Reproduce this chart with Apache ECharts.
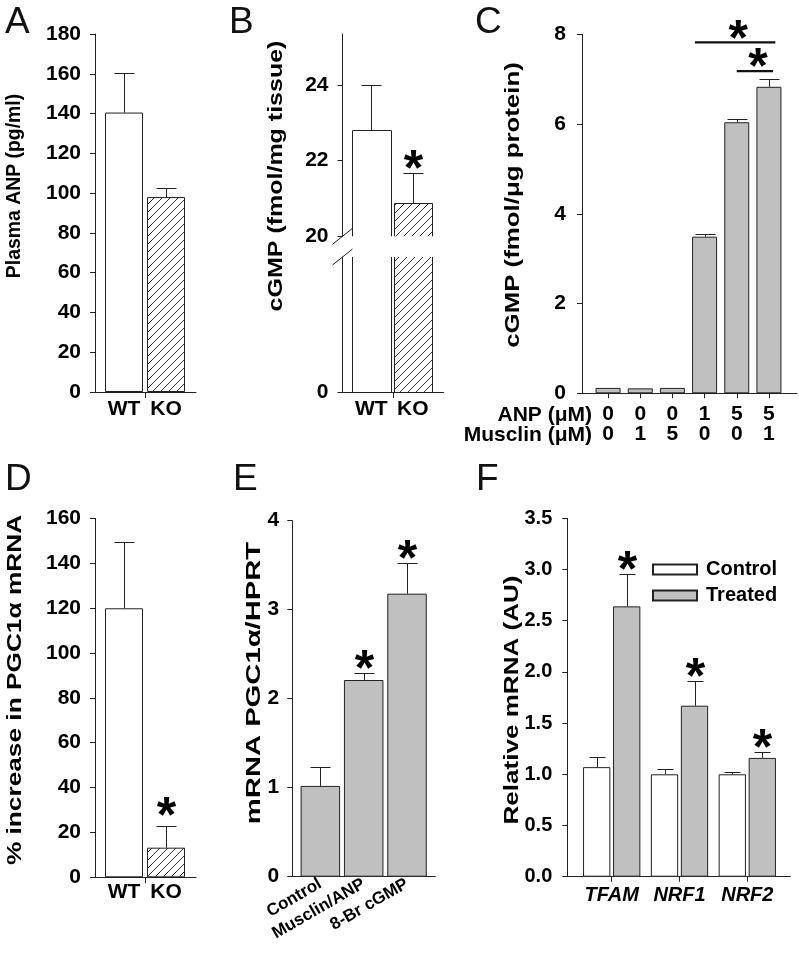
<!DOCTYPE html>
<html><head><meta charset="utf-8">
<script src="https://cdn.jsdelivr.net/npm/echarts@6/dist/echarts.min.js"></script>
<style>html,body{margin:0;padding:0;background:#fff}#c{width:799px;height:962px}</style>
</head><body><div id="c"></div>
<script>
// ---------------- data ----------------
const groupCats = ['WT', 'KO'];
const A_values = [140.5, 98];
const A_errors = [20, 4.5];
const A_sig = [0, 0];
const B_values = [22.8, 20.87];
const B_errors = [1.2, 0.81];
const B_sig = [0, 1];
const B_upperTicks = [20, 22, 24];
const B_lowerTicks = [0];
const C_anp = ['0', '0', '0', '1', '5', '5'];
const C_musclin = ['0', '1', '5', '0', '0', '1'];
const C_values = [0.12, 0.11, 0.12, 3.49, 6.04, 6.83];
const C_errors = [0, 0, 0, 0.06, 0.07, 0.18];
const C_brackets = [[3, 5], [4, 5]];
const C_bracketLevels = [7.82, 7.18];
const D_values = [119.9, 13.2];
const D_errors = [29.7, 9.8];
const D_sig = [0, 1];
const E_cats = ['Control', 'Musclin/ANP', '8-Br cGMP'];
const E_values = [1.02, 2.21, 3.18];
const E_errors = [0.21, 0.08, 0.35];
const E_sig = [0, 1, 1];
const F_cats = ['TFAM', 'NRF1', 'NRF2'];
const F_control = [1.07, 1.0, 1.0];
const F_controlErr = [0.1, 0.05, 0.02];
const F_treated = [2.64, 1.67, 1.16];
const F_treatedErr = [0.32, 0.24, 0.06];
const F_treatedSig = [1, 1, 1];

// ---------------- style ----------------
const FONT = '"Liberation Sans", Arial, Helvetica, sans-serif';
const INK = '#222';
const GREY = '#c0c0c0';
const WHITE = '#ffffff';
const STAR_SIZE = 50;

function makeHatch() {
  const s = 8, c = document.createElement('canvas');
  c.width = s; c.height = s;
  const g = c.getContext('2d');
  g.fillStyle = '#fff'; g.fillRect(0, 0, s, s);
  g.strokeStyle = '#333'; g.lineWidth = 1;
  g.beginPath();
  g.moveTo(0, s); g.lineTo(s, 0);
  g.moveTo(-2, 2); g.lineTo(2, -2);
  g.moveTo(s - 2, s + 2); g.lineTo(s + 2, s - 2);
  g.stroke();
  return c;
}
const HATCH = {image: makeHatch(), repeat: 'repeat'};

const opt = {animation: false, backgroundColor: '#fff', grid: [], xAxis: [], yAxis: [], series: []};
function grid(l, t, w, h) { opt.grid.push({left: l, top: t, width: w, height: h, containLabel: false}); return opt.grid.length - 1; }
function xAx(o) { opt.xAxis.push(o); return opt.xAxis.length - 1; }
function yAx(o) { opt.yAxis.push(o); return opt.yAxis.length - 1; }

function catAxis(gi, cats, o) {
  return {
    type: 'category', gridIndex: gi, data: cats, boundaryGap: true,
    axisLine: {show: false, onZero: false},
    axisTick: {show: !!o.tick, alignWithLabel: true, length: 5, lineStyle: {color: INK}},
    axisLabel: o.label === false ? {show: false} : Object.assign({
      show: true, margin: o.margin, color: '#000', fontFamily: FONT, fontWeight: 'bold',
      fontSize: o.size || 21, interval: 0
    }, o.labelExtra || {}),
    splitLine: {show: false}
  };
}
function valAxis(gi, o) {
  const ax = {
    type: 'value', gridIndex: gi, min: o.min, max: o.max, offset: o.offset,
    axisLine: {show: true, onZero: false, lineStyle: {color: INK}},
    axisTick: {show: true, length: 5, lineStyle: {color: INK}},
    axisLabel: {margin: o.margin || 14, color: '#000', fontFamily: FONT, fontWeight: 'bold', fontSize: o.size || 21},
    splitLine: {show: false}
  };
  if (o.interval) ax.interval = o.interval;
  if (o.ticks) { ax.axisTick.customValues = o.ticks; ax.axisLabel.customValues = o.ticks; }
  if (o.fmt) ax.axisLabel.formatter = o.fmt;
  return ax;
}
function frame(l, t, w, h, midTick) {
  const g = grid(l, t, w, h);
  if (midTick) {
    xAx({type: 'category', gridIndex: g, data: ['', '', ''], boundaryGap: false,
      axisLine: {onZero: false, lineStyle: {color: INK}},
      axisTick: {length: 6, interval: (i) => i === 1, lineStyle: {color: INK}},
      axisLabel: {show: false}, splitLine: {show: false}});
  } else {
    xAx({type: 'value', gridIndex: g, min: 0, max: 1,
      axisLine: {onZero: false, lineStyle: {color: INK}},
      axisTick: {show: false}, axisLabel: {show: false}, splitLine: {show: false}});
  }
  yAx({type: 'value', gridIndex: g, show: false, min: 0, max: 1});
}
function barSeries(xi, yi, vals, fills, width, extra) {
  return Object.assign({
    type: 'bar', xAxisIndex: xi, yAxisIndex: yi, barWidth: width, clip: true,
    data: vals.map((v, i) => ({value: v, itemStyle: {color: fills[i % fills.length]}})),
    itemStyle: {borderColor: INK, borderWidth: 1}, z: 3
  }, extra || {});
}
// bars on a broken axis: edges cut by the grid boundary stay open
function brokenBarSeries(xi, yi, vals, fills, width) {
  return {
    type: 'custom', xAxisIndex: xi, yAxisIndex: yi, z: 3, silent: true, clip: false,
    data: vals.map((v, i) => [i, v]),
    renderItem(params, api) {
      const i = api.value(0), v = api.value(1), cs = params.coordSys;
      const c = api.coord([i, v]);
      const inside = c[1] > cs.y;
      const top = inside ? Math.round(c[1]) + 0.5 : cs.y;
      const bot = cs.y + cs.height;
      const x0 = Math.round(c[0] - width / 2) + 0.5, x1 = Math.round(c[0] + width / 2) + 0.5;
      const ch = [{type: 'rect', shape: {x: x0, y: top, width: x1 - x0, height: bot - top}, style: {fill: fills[i % fills.length]}}];
      if (inside) {
        ch.push({type: 'polyline', shape: {points: [[x0, bot], [x0, top], [x1, top], [x1, bot]]}, style: {stroke: INK, lineWidth: 1, fill: null}});
      } else {
        ch.push({type: 'line', shape: {x1: x0, y1: top, x2: x0, y2: bot}, style: {stroke: INK, lineWidth: 1}});
        ch.push({type: 'line', shape: {x1: x1, y1: top, x2: x1, y2: bot}, style: {stroke: INK, lineWidth: 1}});
      }
      return {type: 'group', children: ch};
    }
  };
}
function errSeries(xi, yi, vals, errs, sig, o) {
  return {
    type: 'custom', xAxisIndex: xi, yAxisIndex: yi, z: 4, silent: true, clip: false,
    data: vals.map((v, i) => [i, v, errs[i], sig ? sig[i] : 0]),
    renderItem(params, api) {
      const v = api.value(1), e = api.value(2), s = api.value(3), i = api.value(0);
      const p0 = api.coord([i, v]), p1 = api.coord([i, v + e]);
      const x = Math.round(p0[0] + (o.shift || 0)) + 0.5;
      const yTop = Math.round(p1[1]) + 0.5;
      const ch = [];
      if (e > 0) {
        ch.push({type: 'line', shape: {x1: x, y1: p0[1], x2: x, y2: yTop}, style: {stroke: INK, lineWidth: 1}});
        ch.push({type: 'line', shape: {x1: x - o.cap / 2, y1: yTop, x2: x + o.cap / 2, y2: yTop}, style: {stroke: INK, lineWidth: 1}});
      }
      if (s) {
        ch.push({type: 'text', x: x, y: yTop - (o.starGap || 14) + 0.23 * STAR_SIZE,
          style: {text: '*', fontFamily: FONT, fontWeight: 'bold', fontSize: STAR_SIZE, fill: '#000', align: 'center', verticalAlign: 'middle'}});
      }
      return {type: 'group', children: ch};
    }
  };
}

// ---------------- Panel A ----------------
const gA = grid(103, 34, 84, 358);
const xA = xAx(catAxis(gA, groupCats, {margin: 7}));
const yA = yAx(valAxis(gA, {min: 0, max: 180, interval: 20, offset: 8}));
frame(95, 34, 101, 358, true);
opt.series.push(barSeries(xA, yA, A_values, [WHITE, HATCH], 38));
opt.series.push(errSeries(xA, yA, A_values, A_errors, A_sig, {cap: 20}));

// ---------------- Panel B (broken axis) ----------------
const gBu = grid(350.5, 34, 83, 202.3);
const xBu = xAx(catAxis(gBu, groupCats, {label: false}));
const yBu = yAx(valAxis(gBu, {min: 20, max: 25.35, offset: 8, ticks: B_upperTicks}));
const gBl = grid(350.5, 257, 83, 135);
const xBl = xAx(catAxis(gBl, groupCats, {margin: 7}));
const yBl = yAx(valAxis(gBl, {min: 0, max: 20, offset: 8, ticks: B_lowerTicks}));
frame(342.5, 257, 101, 135, true);
opt.series.push(brokenBarSeries(xBu, yBu, B_values, [WHITE, HATCH], 38.5));
opt.series.push(brokenBarSeries(xBl, yBl, B_values, [WHITE, HATCH], 38.5));
opt.series.push(errSeries(xBu, yBu, B_values, B_errors, B_sig, {cap: 20}));

// ---------------- Panel C ----------------
const gC = grid(592, 34.3, 193, 359);
const xC = xAx(catAxis(gC, C_anp.map((a, i) => a + '|' + C_musclin[i]), {
  tick: true, margin: 11, size: 21,
  labelExtra: {lineHeight: 20, formatter: (v) => v.split('|').join('\n')}
}));
const yC = yAx(valAxis(gC, {min: 0, max: 8, interval: 2, offset: 10, margin: 16}));
frame(582, 34.3, 215, 359, false);
opt.series.push(barSeries(xC, yC, C_values, [GREY], 25));
opt.series.push(errSeries(xC, yC, C_values, C_errors, null, {cap: 20}));

// ---------------- Panel D ----------------
const gD = grid(103, 518.3, 84, 359);
const xD = xAx(catAxis(gD, groupCats, {margin: 4}));
const yD = yAx(valAxis(gD, {min: 0, max: 160, interval: 20, offset: 8}));
frame(95, 518.3, 101, 359, true);
opt.series.push(barSeries(xD, yD, D_values, [WHITE, HATCH], 38));
opt.series.push(errSeries(xD, yD, D_values, D_errors, D_sig, {cap: 20, starGap: 20}));

// ---------------- Panel E ----------------
const gE = grid(298.7, 520.7, 130, 356);
const xE = xAx(catAxis(gE, E_cats, {margin: 6, size: 17, labelExtra: {rotate: 30}}));
const yE = yAx(valAxis(gE, {min: 0, max: 4, interval: 1, offset: 6.4, margin: 13}));
frame(292.3, 520.7, 143, 356, false);
opt.series.push(barSeries(xE, yE, E_values, [GREY], 39.5));
opt.series.push(errSeries(xE, yE, E_values, E_errors, E_sig, {cap: 20}));

// ---------------- Panel F ----------------
const F_bw = 27.3, F_gap = 2.7, F_shift = (F_bw + F_gap) / 2;
const gF = grid(577.8, 518.3, 203.4, 358.4);
const xF = xAx(catAxis(gF, F_cats, {tick: true, margin: 9, size: 20, labelExtra: {fontStyle: 'italic'}}));
const yF = yAx(valAxis(gF, {min: 0, max: 3.5, interval: 0.5, offset: 10.5, size: 20, margin: 15, fmt: (v) => v.toFixed(1)}));
frame(567.3, 518.3, 223, 358.4, false);
const gapPct = (F_gap / F_bw * 100).toFixed(1) + '%';
opt.series.push(barSeries(xF, yF, F_control, [WHITE], F_bw, {name: 'Control', barGap: gapPct, itemStyle: {color: WHITE, borderColor: INK, borderWidth: 1}}));
opt.series.push(barSeries(xF, yF, F_treated, [GREY], F_bw, {name: 'Treated', barGap: gapPct, itemStyle: {color: GREY, borderColor: INK, borderWidth: 1}}));
opt.series.push(errSeries(xF, yF, F_control, F_controlErr, null, {cap: 16, shift: -F_shift}));
opt.series.push(errSeries(xF, yF, F_treated, F_treatedErr, F_treatedSig, {cap: 16, shift: F_shift}));

opt.legend = {
  left: 652, top: 559.5, padding: 0, orient: 'vertical', itemWidth: 44, itemHeight: 10, itemGap: 6,
  selectedMode: false, icon: 'rect', data: ['Control', 'Treated'],
  textStyle: {fontFamily: FONT, fontWeight: 'bold', fontSize: 20, color: '#000', lineHeight: 19, padding: [0, 0, 0, 4]}
};

const chart = echarts.init(document.getElementById('c'), null, {renderer: 'canvas', width: 799, height: 962});
chart.setOption(opt);

// ---------------- annotations (text, brackets, axis break) ----------------
const gfx = [];
const letters = [['A', 5, 23], ['B', 229, 23], ['C', 475, 23], ['D', 5, 480], ['E', 233, 480], ['F', 476, 480]];
letters.forEach(([t, x, y]) => gfx.push({type: 'text', x, y, style: {text: t, fontFamily: FONT, fontSize: 37, fill: '#111', align: 'left', verticalAlign: 'middle'}}));
// [text, centre x, centre y, font size, stretch along the text]
const titles = [
  ['Plasma ANP (pg/ml)', 14, 186, 20, 0.97],
  ['cGMP (fmol/mg tissue)', 276, 176, 21, 1.19],
  ['cGMP (fmol/\u03bcg protein)', 513, 205, 21, 1.23],
  ['% increase in PGC1\u03b1 mRNA', 15, 690, 21, 1.25],
  ['mRNA PGC1\u03b1/HPRT', 254, 683, 21, 1.39],
  ['Relative mRNA (AU)', 512, 700, 21, 1.24]
];
titles.forEach(([t, x, y, fs, k]) => gfx.push({type: 'text', x, y, rotation: Math.PI / 2, scaleX: k, scaleY: 1,
  style: {text: t, fontFamily: FONT, fontWeight: 'bold', fontSize: fs, fill: '#000', align: 'center', verticalAlign: 'middle'}}));
[['ANP (\u03bcM)', 415], ['Musclin (\u03bcM)', 435]].forEach(([t, y]) => gfx.push({type: 'text', x: 592, y,
  style: {text: t, fontFamily: FONT, fontWeight: 'bold', fontSize: 21, fill: '#000', align: 'right', verticalAlign: 'middle'}}));
// axis break marks on panel B
const bx = 342.5;
[236.3, 257].forEach((y) => gfx.push({type: 'line', shape: {x1: bx - 10, y1: y + 8, x2: bx + 10, y2: y - 8}, style: {stroke: INK, lineWidth: 1}}));
// significance brackets on panel C
const bracketPad = [[-0.3, 0.2], [0, 0.13]];
const pix = (i, v) => chart.convertToPixel({xAxisIndex: xC, yAxisIndex: yC}, [i, v]);
const band = pix(1, 0)[0] - pix(0, 0)[0];
C_brackets.forEach(([a, b], k) => {
  const pa = pix(a, C_bracketLevels[k]), pb = pix(b, C_bracketLevels[k]);
  const x1 = pa[0] + bracketPad[k][0] * band, x2 = pb[0] + bracketPad[k][1] * band;
  gfx.push({type: 'line', shape: {x1, y1: pa[1], x2, y2: pa[1]}, style: {stroke: '#111', lineWidth: 2.2}});
  gfx.push({type: 'text', x: (x1 + x2) / 2 + 3, y: pa[1] - 13 + 0.23 * STAR_SIZE,
    style: {text: '*', fontFamily: FONT, fontWeight: 'bold', fontSize: STAR_SIZE, fill: '#000', align: 'center', verticalAlign: 'middle'}});
});
chart.setOption({graphic: gfx});
</script>
</body></html>
